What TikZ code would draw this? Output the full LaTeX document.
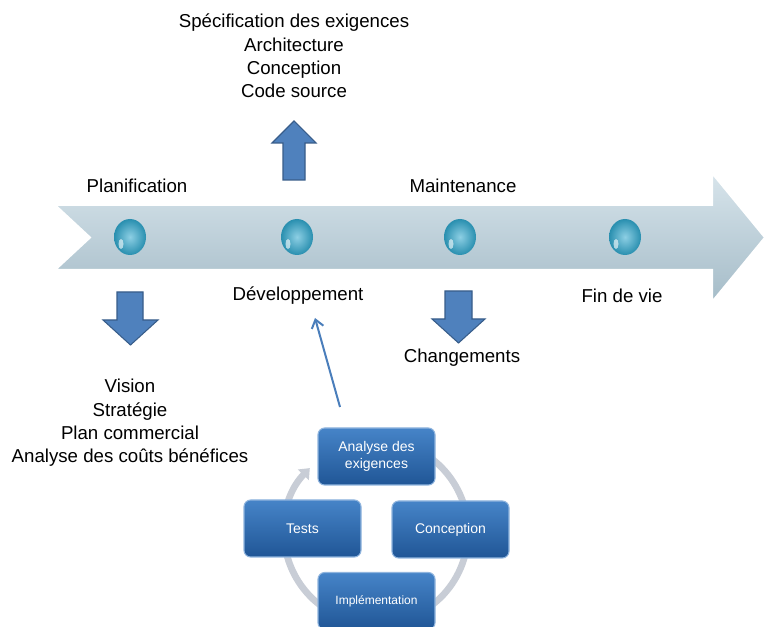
\documentclass[tikz,border=0pt]{standalone}
\usepackage{fontspec}
\setmainfont{Liberation Sans}
\usetikzlibrary{arrows.meta}
\definecolor{shaftcolor}{RGB}{79,129,189}
\definecolor{shaftborder}{RGB}{56,93,138}
\definecolor{bandtop}{RGB}{215,228,235}
\definecolor{bandbottom}{RGB}{165,188,200}
\definecolor{beadcolor}{RGB}{48,168,206}
\definecolor{boxtop}{RGB}{70,132,200}
\definecolor{boxbottom}{RGB}{32,86,150}
\definecolor{ringcolor}{RGB}{200,205,214}
\definecolor{linkcolor}{RGB}{74,126,187}

\begin{document}
\begin{tikzpicture}[x=0.75pt, y=-0.75pt,
        phase/.style={font=\fontsize{14}{17.5}\selectfont, align=center, inner sep=0pt},
        fatarrow/.style={fill=shaftcolor, draw=shaftborder, line width=0.8pt},
        stagebox/.style={rounded corners=5pt, top color=boxtop, bottom color=boxbottom,
                draw=boxtop!60!white, line width=0.8pt, text=white, align=center,
                minimum width=87.75pt, minimum height=42.75pt,
                font=\fontsize{10.5}{12.75}\selectfont},
        link/.style={draw=linkcolor, line width=1.5pt, -{Straight Barb[length=6pt, width=9pt]}}]
        \useasboundingbox[fill=white] (0, 0) rectangle (765, 627); % pixel grid, y down

        % Timeline band
        \draw[draw=white, line width=1.5pt, top color=bandtop, bottom color=bandbottom]
                (55, 205) -- (712, 205) -- (712, 173) -- (765, 237.5) -- (712, 302)
                -- (712, 270) -- (55, 270) -- (90, 237.5) -- cycle;
        \foreach \bx in {130, 297, 460, 625} {
                \shade[inner color=beadcolor!55!white, outer color=beadcolor!85!black]
                        (\bx, 237) ellipse (16 and 18);
                \fill[white, opacity=0.6] (\bx-9, 244) ellipse (2.5 and 5);
        }

        % Phase labels
        \node[phase] (plan) at (137, 186) {Planification};
        \node[phase] (maint) at (463, 186) {Maintenance};
        \node[phase] (dev) at (298, 296) {Développement};
        \node[phase] (fin) at (622, 296) {Fin de vie};
        \node[phase] (chg) at (462, 358) {Changements};
        \node[phase] (livrables) at (294, 56) {Spécification des exigences\\Architecture\\Conception\\Code source};
        \node[phase] (vision) at (130, 423) {Vision\\Stratégie\\Plan commercial\\Analyse des coûts bénéfices};

        % Block arrows
        \draw[fatarrow] (283, 180) -- (283, 143) -- (272, 143) -- (294, 121) -- (316, 143) -- (305, 143) -- (305, 180) -- cycle;
        \draw[fatarrow] (117, 292) -- (117, 320) -- (103, 320) -- (130.5, 345) -- (158, 320) -- (143, 320) -- (143, 292) -- cycle;
        \draw[fatarrow] (445, 291) -- (445, 319) -- (432, 319) -- (458.5, 343) -- (485, 319) -- (472, 319) -- (472, 291) -- cycle;

        % Development cycle
        \draw[ringcolor, line width=5pt, -{Triangle[length=7pt, width=11pt]}]
                (376, 532) ++(240:92) arc[start angle=240, end angle=584, radius=92];
        \node[stagebox] (analyse) at (376.5, 456.5) {Analyse des\\exigences};
        \node[stagebox] (tests) at (302.5, 528.5) {Tests};
        \node[stagebox] (conception) at (450.5, 529.5) {Conception};
        \node[stagebox, font=\fontsize{9}{11}\selectfont] (impl) at (376.5, 601) {Implémentation};

        \coordinate (cyclefoot) at (340, 407);
        \coordinate (devfoot) at (315, 318);
        \draw[link] (cyclefoot) -- (devfoot);
\end{tikzpicture}
\end{document}
